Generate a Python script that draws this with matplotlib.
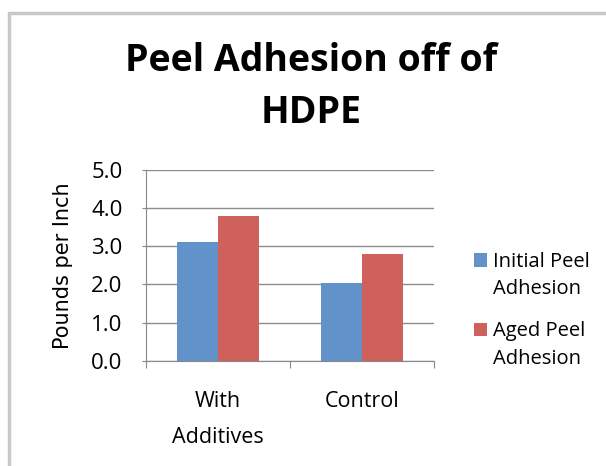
import numpy as np
import matplotlib
matplotlib.use("Agg")
import matplotlib.pyplot as plt
from matplotlib.patches import Rectangle
from matplotlib.container import BarContainer
from matplotlib.legend_handler import HandlerPatch, update_from_first_child

categories = ["With\nAdditives", "Control"]
initial_peel = [3.1, 2.05]
aged_peel = [3.8, 2.8]
series_names = ["Initial Peel\nAdhesion", "Aged Peel\nAdhesion"]
yticks = [0.0, 1.0, 2.0, 3.0, 4.0, 5.0]

plt.rcParams['font.family'] = ['Open Sans', 'DejaVu Sans']

fig = plt.figure(figsize=(6.06, 4.66), dpi=100)
# outer chart border
fig.patches.append(Rectangle((9 / 606, -0.1), 1.2, 1.1 - 13 / 466, transform=fig.transFigure,
                             fill=False, edgecolor='#c8c8c8', linewidth=2.5))

ax = fig.add_axes([146 / 606, 1 - 360.7 / 466, 288 / 606, 190.7 / 466])

x = np.arange(len(categories))
w = 0.285
ax.bar(x - w / 2, initial_peel, w, color='#6192c9', label=series_names[0], zorder=3)
ax.bar(x + w / 2, aged_peel, w, color='#cf615d', label=series_names[1], zorder=3)

ax.set_xlim(-0.5, 1.5)
ax.set_ylim(0, 5)
ax.set_yticks(yticks)
ax.set_yticklabels([f"{v:.1f}" for v in yticks], fontsize=16)
ax.set_xticks([-0.5, 0.5, 1.5])
ax.set_xticklabels([])
ax.set_xticks(x, minor=True)
ax.set_xticklabels(categories, minor=True, fontsize=15.5, linespacing=1.95)
ax.tick_params(axis='x', which='minor', length=0, pad=22)
ax.tick_params(axis='x', which='major', length=5, color='#888888')
ax.tick_params(axis='y', length=3, color='#888888', pad=14)
ax.grid(axis='y', color='#8c8c8c', linewidth=1, zorder=0)
for s in ['top', 'right']:
    ax.spines[s].set_visible(False)
for s in ['left', 'bottom']:
    ax.spines[s].set_color('#888888')
ax.set_ylabel("Pounds per Inch", fontsize=15, labelpad=13, family='DejaVu Sans')

fig.text(0.514, 1 - 61 / 466, "Peel Adhesion off of", ha='center', va='center',
         fontsize=27, fontweight='bold')
fig.text(0.514, 1 - 113 / 466, "HDPE", ha='center', va='center',
         fontsize=27, fontweight='bold')


def top_square(legend, orig_handle, xdescent, ydescent, width, height, fontsize):
    # put the colour square level with the first line of the label
    return Rectangle((-xdescent, -ydescent + 0.8 * fontsize), width, height)


leg = ax.legend(loc='center left', bbox_to_anchor=(1.076, 0.264), frameon=False, fontsize=14.5,
                handlelength=0.65, handleheight=0.65, handletextpad=0.3, labelspacing=1.1,
                handler_map={BarContainer: HandlerPatch(patch_func=top_square,
                                                        update_func=update_from_first_child)})
for t in leg.get_texts():
    t.set_linespacing(1.5)

fig.savefig("out.png", dpi=100, facecolor='white')
